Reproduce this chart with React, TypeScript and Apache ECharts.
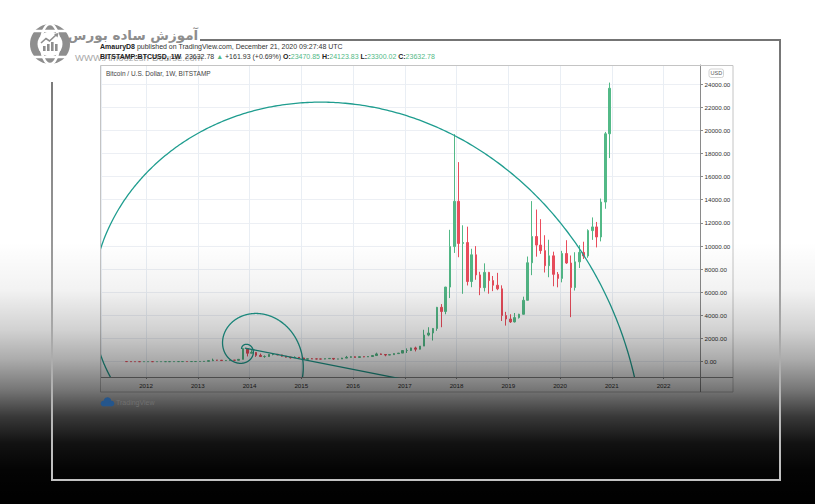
import React, { useEffect, useRef } from 'react';
import * as echarts from 'echarts';

// ---------- data (monthly OHLC, BITSTAMP BTC/USD) [open, high, low, close] ----------
const ohlc2011 = [
  [13.0, 13.6, 7.0, 8.2], [8.2, 8.9, 4.8, 5.1], [5.1, 5.2, 2.2, 3.2], [3.2, 3.5, 2.0, 3.0], [3.0, 4.8, 2.8, 4.7],
];
const ohlc2012 = [
  [4.7, 7.2, 4.6, 5.5], [5.5, 6.2, 4.3, 4.9], [4.9, 5.4, 4.6, 4.9], [4.9, 5.3, 4.7, 5.0],
  [5.0, 5.2, 4.8, 5.2], [5.2, 7.0, 5.2, 6.7], [6.7, 9.5, 6.5, 9.3], [9.3, 16.0, 7.1, 10.2],
  [10.2, 12.7, 9.8, 12.4], [12.4, 12.7, 10.5, 11.2], [11.2, 12.8, 10.2, 12.6], [12.6, 13.9, 12.2, 13.5],
];
const ohlc2013 = [
  [13.5, 21, 13.2, 20.4], [20.4, 34, 19.6, 33.4], [33.4, 95, 33, 93], [93, 266, 50, 139],
  [139, 140, 79, 129], [129, 130, 88, 97], [97, 111, 65, 106], [106, 139, 101, 135],
  [135, 141, 118, 124], [124, 215, 104, 204], [204, 1163, 196, 1128], [1128, 1163, 455, 732],
];
const ohlc2014 = [
  [732, 998, 732, 805], [805, 840, 420, 550], [550, 700, 440, 445], [445, 545, 340, 445],
  [445, 630, 420, 630], [630, 680, 550, 640], [640, 640, 565, 585], [585, 600, 440, 478],
  [478, 495, 366, 387], [387, 415, 275, 338], [338, 460, 320, 378], [378, 390, 305, 318],
];
const ohlc2015 = [
  [318, 320, 152, 217], [217, 263, 212, 254], [254, 299, 236, 244], [244, 260, 213, 236],
  [236, 247, 228, 230], [230, 268, 217, 263], [263, 318, 253, 284], [284, 285, 162, 230],
  [230, 244, 224, 236], [236, 334, 236, 311], [311, 502, 304, 377], [377, 466, 349, 430],
];
const ohlc2016 = [
  [430, 462, 354, 369], [369, 447, 367, 437], [437, 440, 392, 416], [416, 467, 413, 448],
  [448, 548, 436, 531], [531, 780, 526, 673], [673, 704, 605, 624], [624, 624, 471, 575],
  [575, 630, 572, 608], [608, 718, 606, 699], [699, 753, 686, 742], [742, 974, 741, 964],
];
const ohlc2017 = [
  [964, 1153, 752, 970], [970, 1212, 920, 1190], [1190, 1300, 891, 1079], [1079, 1350, 1061, 1348],
  [1348, 2760, 1348, 2300], [2300, 2980, 2200, 2480], [2480, 2915, 1830, 2875], [2875, 4735, 2670, 4700],
  [4700, 4980, 2980, 4340], [4340, 6470, 4100, 6450], [6450, 11400, 5500, 9950], [9950, 19666, 9400, 13860],
];
const ohlc2018 = [
  [13860, 17250, 9030, 10220], [10220, 11790, 5870, 10300], [10300, 11670, 6590, 6930], [6930, 9760, 6440, 9240],
  [9240, 9990, 7080, 7500], [7500, 7770, 5750, 6400], [6400, 8500, 6070, 7720], [7720, 7760, 5880, 7010],
  [7010, 7410, 6100, 6610], [6610, 7680, 6180, 6300], [6300, 6600, 3520, 3990], [3990, 4310, 3120, 3690],
];
const ohlc2019 = [
  [3690, 4100, 3350, 3440], [3440, 4210, 3390, 3810], [3810, 4140, 3730, 4100], [4100, 5620, 4080, 5310],
  [5310, 9090, 5300, 8550], [8550, 13880, 7480, 10820], [10820, 13150, 9080, 10080], [10080, 12320, 9320, 9600],
  [9600, 10930, 7710, 8300], [8300, 10540, 7300, 9150], [9150, 9510, 6520, 7550], [7550, 7750, 6430, 7200],
];
const ohlc2020 = [
  [7200, 9580, 6860, 9350], [9350, 10500, 8450, 8530], [8530, 9180, 3850, 6410], [6410, 9460, 6150, 8630],
  [8630, 10070, 8100, 9450], [9450, 10370, 8880, 9140], [9140, 11440, 8980, 11330], [11330, 12470, 10530, 11650],
  [11650, 12080, 9880, 10780], [10780, 14100, 10400, 13800], [13800, 19860, 13220, 19700], [19700, 24124, 17600, 23633],
];
// [year, first month, rows]
const yearBlocks: [number, number, number[][]][] = [
  [2011, 8, ohlc2011], [2012, 1, ohlc2012], [2013, 1, ohlc2013], [2014, 1, ohlc2014], [2015, 1, ohlc2015],
  [2016, 1, ohlc2016], [2017, 1, ohlc2017], [2018, 1, ohlc2018], [2019, 1, ohlc2019], [2020, 1, ohlc2020],
];

// drawings (data coordinates: decimal year, price)
const spiralCenter = [2013.91, 1050];
const spiralAnchor = [2015.03, 150];
const trendLine = [[2013.91, 1180], [2017.3, -1810]];

// axis ranges
const xMin = 2011.1304;
const xMax = 2022.7053;
const yMin = -1322;
const yMax = 25644;

// header texts
const headerLine1 = '{b|AmauryD8} published on TradingView.com, December 21, 2020 09:27:48 UTC';
const headerLine2 =
  '{b|BITSTAMP:BTCUSD, 1W}  {n|23632.78} {g|▲} {n|+161.93 (+0.69%)} {b|O:}{g|23470.85} {b|H:}{g|24123.83} {b|L:}{g|23300.02} {b|C:}{g|23632.78}';
const paneTitle = 'Bitcoin / U.S. Dollar, 1W, BITSTAMP';
const logoTitle = 'آموزش ساده بورس';
const logoUrl = 'WWW.Amoozesh-Bourse.com';

const UP = '#53b987';
const DOWN = '#eb4d5c';
const SPIRAL = '#1f9d8f';
const TV_FONT = "'Liberation Sans', Arial, sans-serif";
const PHI = (1 + Math.sqrt(5)) / 2;

const candleData: number[][] = [];
yearBlocks.forEach(([year, m0, rows]) => {
  rows.forEach((r, i) => {
    const x = year + (m0 + i - 0.5) / 12;
    candleData.push([x, r[0], r[3], r[2], r[1]]);
  });
});

function buildOption() {
  const graphic: any[] = [
    // pane box
    { type: 'rect', z: 10, silent: true, shape: { x: 100.5, y: 65.5, width: 632.5, height: 326.5 }, style: { fill: 'none', stroke: '#c4c4c4', lineWidth: 1 } },
    { type: 'line', z: 10, silent: true, shape: { x1: 700.5, y1: 377, x2: 700.5, y2: 392 }, style: { stroke: '#8a8a8a', lineWidth: 1 } },
    { type: 'line', z: 10, silent: true, shape: { x1: 700, y1: 377.5, x2: 733, y2: 377.5 }, style: { stroke: '#8a8a8a', lineWidth: 1 } },
    // USD badge
    { type: 'rect', z: 10, silent: true, shape: { x: 709, y: 69, width: 14.5, height: 8.5, r: 2 }, style: { fill: '#fff', stroke: '#c8c8c8', lineWidth: 0.8 } },
    { type: 'text', z: 11, silent: true, x: 716.3, y: 73.4, style: { text: 'USD', fontSize: 5.5, fontFamily: TV_FONT, fill: '#555', align: 'center', verticalAlign: 'middle' } },
    // pane title
    { type: 'text', z: 11, silent: true, x: 106, y: 73.5, style: { text: paneTitle, fontSize: 6.5, fontFamily: TV_FONT, fill: '#444', verticalAlign: 'middle' } },
    // logo url (partly behind header, as in the screenshot)
    { type: 'text', z: 11, silent: true, x: 75, y: 57.5, style: { text: logoUrl, fontSize: 9.5, fontFamily: TV_FONT, fill: '#a8a8a8', verticalAlign: 'middle' } },
    // header lines
    {
      type: 'text', z: 12, silent: true, x: 100, y: 46,
      style: { text: headerLine1, fontSize: 7, fontFamily: TV_FONT, fill: '#333', verticalAlign: 'middle', rich: { b: { fontWeight: 'bold', fontSize: 7, fontFamily: TV_FONT, fill: '#222' } } },
    },
    {
      type: 'text', z: 12, silent: true, x: 100, y: 56.8,
      style: {
        text: headerLine2, fontSize: 7, fontFamily: TV_FONT, fill: '#333', verticalAlign: 'middle',
        rich: {
          b: { fontWeight: 'bold', fontSize: 7, fontFamily: TV_FONT, fill: '#222' },
          n: { fontSize: 7, fontFamily: TV_FONT, fill: '#333' },
          g: { fontSize: 7, fontFamily: TV_FONT, fill: UP },
        },
      },
    },
    // Persian logo text
    { type: 'text', z: 15, silent: true, x: 133, y: 35, style: { text: logoTitle, fontSize: 13.5, fontWeight: 'bold', fontFamily: "'DejaVu Sans', sans-serif", fill: '#8e8e8e', align: 'center', verticalAlign: 'middle' } },
    // globe icon
    { type: 'circle', z: 11, silent: true, shape: { cx: 50, cy: 44, r: 20 }, style: { fill: '#8e8e8e' } },
    { type: 'ellipse', z: 12, silent: true, shape: { cx: 50, cy: 44, rx: 9, ry: 20 }, style: { fill: 'none', stroke: '#fff', lineWidth: 2.5 } },
    { type: 'line', z: 12, silent: true, shape: { x1: 30, y1: 31, x2: 70, y2: 31 }, style: { stroke: '#fff', lineWidth: 2.5 } },
    { type: 'line', z: 12, silent: true, shape: { x1: 30, y1: 57, x2: 70, y2: 57 }, style: { stroke: '#fff', lineWidth: 2.5 } },
    { type: 'circle', z: 13, silent: true, shape: { cx: 50, cy: 44, r: 12.5 }, style: { fill: '#fff' } },
    { type: 'rect', z: 14, silent: true, shape: { x: 43, y: 46, width: 2.6, height: 5 }, style: { fill: '#8e8e8e' } },
    { type: 'rect', z: 14, silent: true, shape: { x: 47, y: 44, width: 2.6, height: 7 }, style: { fill: '#8e8e8e' } },
    { type: 'rect', z: 14, silent: true, shape: { x: 51, y: 42, width: 2.6, height: 9 }, style: { fill: '#8e8e8e' } },
    { type: 'rect', z: 14, silent: true, shape: { x: 55, y: 44, width: 2.6, height: 7 }, style: { fill: '#8e8e8e' } },
    { type: 'polyline', z: 14, silent: true, shape: { points: [[41, 43], [46, 38.5], [49.5, 41], [56, 35]] }, style: { stroke: '#8e8e8e', lineWidth: 1.6, fill: 'none' } },
    { type: 'polygon', z: 14, silent: true, shape: { points: [[58.5, 33], [54, 34], [57.5, 37.5]] }, style: { fill: '#8e8e8e' } },
    // dark gradient overlay
    {
      type: 'rect', z: 100, silent: true, shape: { x: 0, y: 0, width: 815, height: 504 },
      style: {
        fill: new echarts.graphic.LinearGradient(0, 0, 0, 1, [
          { offset: 0, color: 'rgba(0,0,0,0)' },
          { offset: 0.48, color: 'rgba(0,0,0,0)' },
          { offset: 0.575, color: 'rgba(0,0,0,0.05)' },
          { offset: 0.655, color: 'rgba(0,0,0,0.18)' },
          { offset: 0.714, color: 'rgba(0,0,0,0.33)' },
          { offset: 0.774, color: 'rgba(0,0,0,0.54)' },
          { offset: 0.827, color: 'rgba(0,0,0,0.78)' },
          { offset: 0.879, color: 'rgba(0,0,0,0.93)' },
          { offset: 0.933, color: 'rgba(0,0,0,0.985)' },
          { offset: 1, color: 'rgba(0,0,0,1)' },
        ]),
      },
    },
    // frame
    {
      type: 'polyline', z: 101, silent: true,
      shape: { points: [[200, 40], [780, 40], [780, 480], [52, 480], [52, 82]] },
      style: {
        fill: 'none', lineWidth: 2,
        stroke: new echarts.graphic.LinearGradient(0, 0, 0, 1, [
          { offset: 0, color: '#747474' },
          { offset: 1, color: '#c2c2c2' },
        ]),
      },
    },
    // TradingView logo
    { type: 'circle', z: 102, silent: true, shape: { cx: 103.5, cy: 403.5, r: 2.8 }, style: { fill: '#25568c' } },
    { type: 'circle', z: 102, silent: true, shape: { cx: 107.5, cy: 401, r: 3.8 }, style: { fill: '#25568c' } },
    { type: 'circle', z: 102, silent: true, shape: { cx: 111.5, cy: 403.5, r: 2.8 }, style: { fill: '#25568c' } },
    { type: 'rect', z: 102, silent: true, shape: { x: 103.5, y: 403, width: 8, height: 3.3 }, style: { fill: '#25568c' } },
    { type: 'text', z: 102, silent: true, x: 116, y: 402.5, style: { text: 'TradingView', fontSize: 7, fontFamily: TV_FONT, fill: '#707070', verticalAlign: 'middle' } },
  ];

  return {
    animation: false,
    backgroundColor: '#ffffff',
    grid: { left: 101, top: 65, width: 599, height: 312, containLabel: false },
    xAxis: {
      type: 'value', min: xMin, max: xMax, splitNumber: 11, minInterval: 1, maxInterval: 1,
      axisLine: { show: true, onZero: false, lineStyle: { color: '#8a8a8a', width: 1 } },
      axisTick: { show: true, length: 2, lineStyle: { color: '#8a8a8a' } },
      axisLabel: {
        showMinLabel: false, showMaxLabel: false, margin: 5, fontSize: 6.2, fontFamily: TV_FONT, color: '#333',
        formatter: (v: number) => String(Math.round(v)),
      },
      splitLine: { show: true, lineStyle: { color: '#e9eef4', width: 1 } },
    },
    yAxis: {
      type: 'value', position: 'right', min: yMin, max: yMax, splitNumber: 13, minInterval: 2000, maxInterval: 2000,
      axisLine: { show: true, onZero: false, lineStyle: { color: '#8a8a8a', width: 1 } },
      axisTick: { show: true, length: 3, lineStyle: { color: '#8a8a8a' } },
      axisLabel: {
        showMinLabel: false, showMaxLabel: false, margin: 4.5, fontSize: 6.2, fontFamily: TV_FONT, color: '#333',
        formatter: (v: number) => v.toFixed(2),
      },
      splitLine: { show: true, lineStyle: { color: '#eceff4', width: 1 } },
    },
    series: [
      {
        type: 'candlestick', data: candleData, barWidth: 2, clip: true,
        itemStyle: { color: UP, color0: DOWN, borderColor: UP, borderColor0: DOWN, borderWidth: 1 },
      },
      {
        type: 'line', data: trendLine, showSymbol: false, symbol: 'none', clip: true, z: 5,
        lineStyle: { color: SPIRAL, width: 1.3 },
      },
      {
        type: 'custom', clip: true, z: 5,
        data: [[spiralCenter[0], spiralCenter[1], spiralAnchor[0], spiralAnchor[1]]],
        encode: { x: [0, 2], y: [1, 3] },
        renderItem: (params: any, api: any) => {
          const c = api.coord([api.value(0), api.value(1)]);
          const a = api.coord([api.value(2), api.value(3)]);
          const dx = a[0] - c[0];
          const dy = a[1] - c[1];
          const r1 = Math.hypot(dx, dy);
          const th1 = Math.atan2(dy, dx);
          const k = Math.log(PHI) / (Math.PI / 2);
          const pts: number[][] = [];
          for (let th = th1 - 3 * Math.PI; th <= th1 + 3 * Math.PI; th += Math.PI / 360) {
            const r = r1 * Math.exp(k * (th - th1));
            pts.push([c[0] + r * Math.cos(th), c[1] + r * Math.sin(th)]);
          }
          return { type: 'polyline', shape: { points: pts }, style: { stroke: SPIRAL, lineWidth: 1.3, fill: null } };
        },
      },
    ],
    graphic,
  };
}

export default function App() {
  const ref = useRef<HTMLDivElement>(null);
  useEffect(() => {
    if (!ref.current) return;
    const chart = echarts.init(ref.current, null, { renderer: 'svg' });
    chart.setOption(buildOption() as any);
    return () => chart.dispose();
  }, []);
  return (
    <div
      ref={ref}
      style={{ position: 'fixed', left: 0, top: 0, width: 815, height: 504, background: '#fff' }}
    />
  );
}
